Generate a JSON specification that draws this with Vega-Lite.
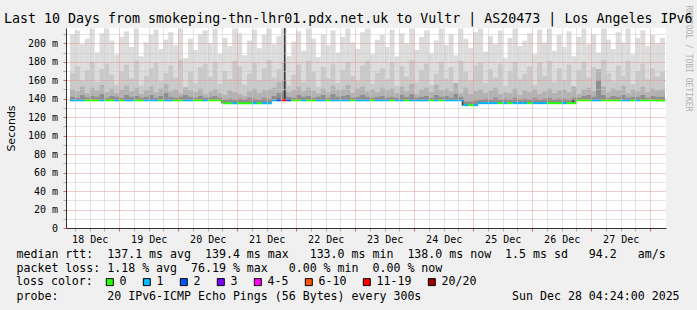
{
  "$schema": "https://vega.github.io/schema/vega-lite/v6.json",
  "width": 600,
  "height": 200,
  "autosize": {"type": "none"},
  "padding": {"left": 66, "top": 28, "right": 31, "bottom": 82},
  "background": "#f0f0f0",
  "config": {
    "view": {"fill": "white", "stroke": null},
    "font": "DejaVu Sans Mono",
    "axis": {"labelFont": "DejaVu Sans Mono", "labelFontSize": 10, "labelColor": "#000", "domainColor": "#333", "titleFontWeight": "normal", "titleColor": "#000"}
  },
  "title": {
    "text": "Last 10 Days from smokeping-thn-lhr01.pdx.net.uk to Vultr | AS20473 | Los Angeles IPv6",
    "anchor": "start", "frame": "group", "dx": -62, "dy": 36.6, "offset": 5,
    "font": "DejaVu Sans Mono", "fontSize": 13.3, "fontWeight": "normal", "color": "#000", "baseline": "alphabetic"
  },
  "datasets": {
    "smoke": [
      {"t":"2025-12-18T05:00Z","m":138.3,"l":"1","a":210,"b":168,"c":150,"d":142},
      {"t":"2025-12-18T07:00Z","m":138.3,"l":"1","a":214,"b":175,"c":148,"d":141},
      {"t":"2025-12-18T09:00Z","m":138.3,"l":"1","a":199,"b":160,"c":153,"d":144},
      {"t":"2025-12-18T11:00Z","m":138.3,"l":"0","a":205,"b":171,"c":146,"d":141.5},
      {"t":"2025-12-18T13:00Z","m":138.3,"l":"0","a":216,"b":180,"c":152,"d":143},
      {"t":"2025-12-18T15:00Z","m":138.3,"l":"0","a":190,"b":158,"c":149,"d":142},
      {"t":"2025-12-18T17:00Z","m":138.3,"l":"1","a":211,"b":172,"c":155,"d":145},
      {"t":"2025-12-18T19:00Z","m":138.3,"l":"0","a":216,"b":178,"c":147,"d":141},
      {"t":"2025-12-18T21:00Z","m":138.3,"l":"0","a":203,"b":166,"c":151,"d":143},
      {"t":"2025-12-18T23:00Z","m":138.3,"l":"1","a":188,"b":155,"c":146,"d":142},
      {"t":"2025-12-19T01:00Z","m":138.3,"l":"0","a":207,"b":170,"c":150,"d":141},
      {"t":"2025-12-19T03:00Z","m":138.3,"l":"1","a":213,"b":177,"c":154,"d":144},
      {"t":"2025-12-19T05:00Z","m":138.3,"l":"1","a":196,"b":162,"c":148,"d":142},
      {"t":"2025-12-19T07:00Z","m":138.3,"l":"0","a":216,"b":181,"c":152,"d":143},
      {"t":"2025-12-19T09:00Z","m":138.3,"l":"0","a":186,"b":154,"c":145,"d":141},
      {"t":"2025-12-19T11:00Z","m":138.3,"l":"1","a":201,"b":165,"c":149,"d":142},
      {"t":"2025-12-19T13:00Z","m":138.3,"l":"1","a":209,"b":173,"c":153,"d":144},
      {"t":"2025-12-19T15:00Z","m":138.3,"l":"1","a":215,"b":179,"c":147,"d":141},
      {"t":"2025-12-19T17:00Z","m":138.3,"l":"0","a":194,"b":159,"c":151,"d":143},
      {"t":"2025-12-19T19:00Z","m":138.3,"l":"1","a":204,"b":168,"c":156,"d":146},
      {"t":"2025-12-19T21:00Z","m":138.3,"l":"1","a":212,"b":176,"c":148,"d":142},
      {"t":"2025-12-19T23:00Z","m":138.3,"l":"0","a":198,"b":163,"c":150,"d":141},
      {"t":"2025-12-20T01:00Z","m":138.3,"l":"0","a":216,"b":182,"c":146,"d":142},
      {"t":"2025-12-20T03:00Z","m":138.3,"l":"1","a":184,"b":153,"c":152,"d":144},
      {"t":"2025-12-20T05:00Z","m":138.3,"l":"1","a":205,"b":169,"c":149,"d":142},
      {"t":"2025-12-20T07:00Z","m":138.3,"l":"0","a":193,"b":157,"c":147,"d":141},
      {"t":"2025-12-20T09:00Z","m":138.3,"l":"0","a":210,"b":174,"c":151,"d":143},
      {"t":"2025-12-20T11:00Z","m":138.3,"l":"1","a":214,"b":178,"c":145,"d":141},
      {"t":"2025-12-20T13:00Z","m":138.3,"l":"0","a":200,"b":164,"c":148,"d":142},
      {"t":"2025-12-20T15:00Z","m":138.3,"l":"0","a":216,"b":180,"c":150,"d":143},
      {"t":"2025-12-20T17:00Z","m":138.3,"l":"0","a":189,"b":156,"c":146,"d":141},
      {"t":"2025-12-20T19:00Z","m":135.1,"l":"0","a":206,"b":170,"c":144,"d":139},
      {"t":"2025-12-20T21:00Z","m":135.1,"l":"0","a":197,"b":161,"c":149,"d":140},
      {"t":"2025-12-20T23:00Z","m":135.1,"l":"1","a":216,"b":181,"c":147,"d":139},
      {"t":"2025-12-21T01:00Z","m":135.1,"l":"0","a":211,"b":175,"c":145,"d":140},
      {"t":"2025-12-21T03:00Z","m":135.1,"l":"0","a":187,"b":155,"c":143,"d":139},
      {"t":"2025-12-21T05:00Z","m":135.1,"l":"0","a":203,"b":167,"c":148,"d":141},
      {"t":"2025-12-21T07:00Z","m":135.1,"l":"1","a":215,"b":179,"c":151,"d":140},
      {"t":"2025-12-21T09:00Z","m":135.1,"l":"0","a":195,"b":160,"c":146,"d":139},
      {"t":"2025-12-21T11:00Z","m":135.1,"l":"1","a":209,"b":173,"c":149,"d":141},
      {"t":"2025-12-21T13:00Z","m":135.1,"l":"1","a":216,"b":182,"c":150,"d":140},
      {"t":"2025-12-21T15:00Z","m":138.3,"l":"1","a":199,"b":163,"c":152,"d":143},
      {"t":"2025-12-21T17:00Z","m":138.3,"l":"2","a":208,"b":172,"c":158,"d":146},
      {"t":"2025-12-21T19:00Z","m":138.3,"l":"11-19","a":216,"b":180,"c":160,"d":148},
      {"t":"2025-12-21T21:00Z","m":138.3,"l":"2","a":186,"b":154,"c":147,"d":142},
      {"t":"2025-12-21T23:00Z","m":138.3,"l":"0","a":202,"b":166,"c":150,"d":141},
      {"t":"2025-12-22T01:00Z","m":138.3,"l":"0","a":213,"b":177,"c":153,"d":144},
      {"t":"2025-12-22T03:00Z","m":138.3,"l":"1","a":192,"b":158,"c":148,"d":142},
      {"t":"2025-12-22T05:00Z","m":138.3,"l":"0","a":216,"b":181,"c":152,"d":143},
      {"t":"2025-12-22T07:00Z","m":138.3,"l":"0","a":205,"b":169,"c":149,"d":141},
      {"t":"2025-12-22T09:00Z","m":138.3,"l":"1","a":185,"b":153,"c":146,"d":142},
      {"t":"2025-12-22T11:00Z","m":138.3,"l":"1","a":210,"b":174,"c":151,"d":144},
      {"t":"2025-12-22T13:00Z","m":138.3,"l":"0","a":198,"b":162,"c":147,"d":141},
      {"t":"2025-12-22T15:00Z","m":138.3,"l":"1","a":214,"b":178,"c":154,"d":145},
      {"t":"2025-12-22T17:00Z","m":138.3,"l":"1","a":190,"b":157,"c":149,"d":142},
      {"t":"2025-12-22T19:00Z","m":138.3,"l":"1","a":207,"b":171,"c":150,"d":143},
      {"t":"2025-12-22T21:00Z","m":138.3,"l":"1","a":216,"b":180,"c":155,"d":144},
      {"t":"2025-12-22T23:00Z","m":138.3,"l":"0","a":201,"b":165,"c":146,"d":141},
      {"t":"2025-12-23T01:00Z","m":138.3,"l":"1","a":194,"b":159,"c":151,"d":142},
      {"t":"2025-12-23T03:00Z","m":138.3,"l":"1","a":212,"b":176,"c":153,"d":144},
      {"t":"2025-12-23T05:00Z","m":138.3,"l":"1","a":216,"b":181,"c":148,"d":142},
      {"t":"2025-12-23T07:00Z","m":138.3,"l":"0","a":188,"b":156,"c":150,"d":141},
      {"t":"2025-12-23T09:00Z","m":138.3,"l":"1","a":204,"b":168,"c":147,"d":142},
      {"t":"2025-12-23T11:00Z","m":138.3,"l":"1","a":209,"b":173,"c":152,"d":143},
      {"t":"2025-12-23T13:00Z","m":138.3,"l":"1","a":196,"b":161,"c":149,"d":141},
      {"t":"2025-12-23T15:00Z","m":138.3,"l":"0","a":215,"b":179,"c":151,"d":142},
      {"t":"2025-12-23T17:00Z","m":138.3,"l":"1","a":186,"b":154,"c":146,"d":141},
      {"t":"2025-12-23T19:00Z","m":138.3,"l":"1","a":211,"b":175,"c":153,"d":144},
      {"t":"2025-12-23T21:00Z","m":138.3,"l":"0","a":200,"b":164,"c":148,"d":142},
      {"t":"2025-12-23T23:00Z","m":138.3,"l":"1","a":216,"b":182,"c":156,"d":145},
      {"t":"2025-12-24T01:00Z","m":138.3,"l":"1","a":193,"b":158,"c":145,"d":141},
      {"t":"2025-12-24T03:00Z","m":138.3,"l":"1","a":207,"b":171,"c":150,"d":142},
      {"t":"2025-12-24T05:00Z","m":138.3,"l":"1","a":214,"b":178,"c":152,"d":143},
      {"t":"2025-12-24T07:00Z","m":138.3,"l":"0","a":189,"b":155,"c":147,"d":141},
      {"t":"2025-12-24T09:00Z","m":138.3,"l":"1","a":203,"b":167,"c":155,"d":144},
      {"t":"2025-12-24T11:00Z","m":138.3,"l":"0","a":216,"b":180,"c":149,"d":142},
      {"t":"2025-12-24T13:00Z","m":138.3,"l":"1","a":198,"b":162,"c":151,"d":143},
      {"t":"2025-12-24T15:00Z","m":138.3,"l":"1","a":210,"b":174,"c":148,"d":141},
      {"t":"2025-12-24T17:00Z","m":138.3,"l":"1","a":187,"b":156,"c":157,"d":145},
      {"t":"2025-12-24T19:00Z","m":138.3,"l":"1","a":216,"b":181,"c":146,"d":142},
      {"t":"2025-12-24T21:00Z","m":133.0,"l":"1","a":205,"b":169,"c":152,"d":137},
      {"t":"2025-12-24T23:00Z","m":133.0,"l":"0","a":195,"b":160,"c":145,"d":137},
      {"t":"2025-12-25T01:00Z","m":133.0,"l":"1","a":212,"b":176,"c":148,"d":138},
      {"t":"2025-12-25T03:00Z","m":135.2,"l":"1","a":216,"b":179,"c":150,"d":139},
      {"t":"2025-12-25T05:00Z","m":135.2,"l":"1","a":191,"b":157,"c":146,"d":140},
      {"t":"2025-12-25T07:00Z","m":135.2,"l":"1","a":208,"b":172,"c":149,"d":139},
      {"t":"2025-12-25T09:00Z","m":135.2,"l":"1","a":199,"b":163,"c":152,"d":141},
      {"t":"2025-12-25T11:00Z","m":135.2,"l":"0","a":214,"b":178,"c":145,"d":139},
      {"t":"2025-12-25T13:00Z","m":135.2,"l":"1","a":184,"b":154,"c":147,"d":140},
      {"t":"2025-12-25T15:00Z","m":135.2,"l":"0","a":206,"b":170,"c":146,"d":139},
      {"t":"2025-12-25T17:00Z","m":135.2,"l":"1","a":216,"b":180,"c":151,"d":141},
      {"t":"2025-12-25T19:00Z","m":135.2,"l":"1","a":197,"b":161,"c":144,"d":139},
      {"t":"2025-12-25T21:00Z","m":135.2,"l":"1","a":203,"b":167,"c":149,"d":140},
      {"t":"2025-12-25T23:00Z","m":135.2,"l":"0","a":211,"b":175,"c":147,"d":139},
      {"t":"2025-12-26T01:00Z","m":135.2,"l":"1","a":188,"b":155,"c":150,"d":141},
      {"t":"2025-12-26T03:00Z","m":135.2,"l":"1","a":215,"b":179,"c":145,"d":139},
      {"t":"2025-12-26T05:00Z","m":135.2,"l":"1","a":201,"b":165,"c":148,"d":140},
      {"t":"2025-12-26T07:00Z","m":135.2,"l":"0","a":216,"b":181,"c":151,"d":141},
      {"t":"2025-12-26T09:00Z","m":135.2,"l":"0","a":192,"b":158,"c":146,"d":139},
      {"t":"2025-12-26T11:00Z","m":135.2,"l":"0","a":209,"b":173,"c":149,"d":140},
      {"t":"2025-12-26T13:00Z","m":135.2,"l":"1","a":196,"b":160,"c":150,"d":140},
      {"t":"2025-12-26T15:00Z","m":135.2,"l":"0","a":213,"b":177,"c":147,"d":139},
      {"t":"2025-12-26T17:00Z","m":135.2,"l":"0","a":186,"b":154,"c":153,"d":141},
      {"t":"2025-12-26T19:00Z","m":138.3,"l":"0","a":207,"b":171,"c":145,"d":141},
      {"t":"2025-12-26T21:00Z","m":138.3,"l":"0","a":216,"b":180,"c":150,"d":143},
      {"t":"2025-12-26T23:00Z","m":138.3,"l":"0","a":199,"b":163,"c":152,"d":144},
      {"t":"2025-12-27T01:00Z","m":138.3,"l":"1","a":210,"b":174,"c":148,"d":142},
      {"t":"2025-12-27T03:00Z","m":138.3,"l":"1","a":190,"b":157,"c":172,"d":160},
      {"t":"2025-12-27T05:00Z","m":138.3,"l":"0","a":216,"b":182,"c":153,"d":144},
      {"t":"2025-12-27T07:00Z","m":138.3,"l":"0","a":204,"b":168,"c":147,"d":141},
      {"t":"2025-12-27T09:00Z","m":138.3,"l":"0","a":194,"b":159,"c":151,"d":143},
      {"t":"2025-12-27T11:00Z","m":138.3,"l":"0","a":212,"b":176,"c":149,"d":142},
      {"t":"2025-12-27T13:00Z","m":138.3,"l":"1","a":201,"b":165,"c":154,"d":144},
      {"t":"2025-12-27T15:00Z","m":138.3,"l":"1","a":216,"b":181,"c":146,"d":141},
      {"t":"2025-12-27T17:00Z","m":138.3,"l":"0","a":188,"b":156,"c":150,"d":142},
      {"t":"2025-12-27T19:00Z","m":138.3,"l":"1","a":206,"b":170,"c":148,"d":142},
      {"t":"2025-12-27T21:00Z","m":138.3,"l":"0","a":214,"b":178,"c":153,"d":144},
      {"t":"2025-12-27T23:00Z","m":138.3,"l":"0","a":197,"b":161,"c":147,"d":141},
      {"t":"2025-12-28T01:00Z","m":138.3,"l":"0","a":209,"b":173,"c":151,"d":143},
      {"t":"2025-12-28T03:00Z","m":138.3,"l":"0","a":200,"b":164,"c":149,"d":142},
      {"t":"2025-12-28T05:00Z","m":138.0,"l":"0","a":206,"b":169,"c":150,"d":142}
    ],
    "spikes": [
      {"t":"2025-12-20T17:50Z","lo":135.1,"hi":138.5},
      {"t":"2025-12-21T16:50Z","lo":137.5,"hi":140.5},
      {"t":"2025-12-21T19:20Z","lo":138.3,"hi":216.6},
      {"t":"2025-12-24T19:40Z","lo":132.5,"hi":139},
      {"t":"2025-12-26T16:40Z","lo":135.2,"hi":138.5}
    ]
  },
  "encoding": {
    "x": {
      "field": "t", "type": "temporal",
      "scale": {"type": "utc", "domain": [1766031840000, 1766895840000]},
      "axis": {
        "values": [1766037600000,1766059200000,1766080800000,1766102400000,1766124000000,1766145600000,1766167200000,1766188800000,1766210400000,1766232000000,1766253600000,1766275200000,1766296800000,1766318400000,1766340000000,1766361600000,1766383200000,1766404800000,1766426400000,1766448000000,1766469600000,1766491200000,1766512800000,1766534400000,1766556000000,1766577600000,1766599200000,1766620800000,1766642400000,1766664000000,1766685600000,1766707200000,1766728800000,1766750400000,1766772000000,1766793600000,1766815200000,1766836800000,1766858400000,1766880000000],
        "labelExpr": "utchours(datum.value) == 12 ? utcFormat(datum.value, '%d %b') : ''",
        "labelFlush": false, "labelOverlap": false, "labelPadding": 3,
        "tickSize": 3,
        "tickColor": {"condition": {"test": "utchours(datum.value) == 0", "value": "#e06060"}, "value": "#aaaaaa"},
        "grid": true, "gridDash": [1, 1],
        "gridColor": {"condition": {"test": "utchours(datum.value) == 0", "value": "#e49a9a"}, "value": "#c8c8c8"},
        "zindex": 1,
        "title": [
          "median rtt:\u00a0\u00a0137.1 ms avg\u00a0\u00a0139.4 ms max\u00a0\u00a0\u00a0133.0 ms min\u00a0\u00a0138.0 ms now\u00a0\u00a01.5 ms sd\u00a0\u00a0\u00a094.2\u00a0\u00a0\u00a0am/s",
          "packet loss: 1.18 % avg\u00a0\u00a076.19 % max\u00a0\u00a0\u00a00.00 % min\u00a0\u00a00.00 % now",
          "\u200b",
          "probe:\u00a0\u00a0\u00a0\u00a0\u00a0\u00a0\u00a020 IPv6-ICMP Echo Pings (56 Bytes) every 300s\u00a0\u00a0\u00a0\u00a0\u00a0\u00a0\u00a0\u00a0\u00a0\u00a0\u00a0\u00a0\u00a0Sun Dec 28 04:24:00 2025"
        ],
        "titleFont": "DejaVu Sans Mono", "titleFontSize": 11.6,
        "titleAnchor": "start", "titleAlign": "left", "titleBaseline": "alphabetic",
        "titleX": -50, "titleY": 29.7, "titleLineHeight": 14.1
      }
    }
  },
  "layer": [
    {
      "data": {"name": "smoke"},
      "mark": {"type": "bar", "width": 5, "color": "#dcdcdc", "clip": true},
      "encoding": {
        "y": {
          "field": "m", "type": "quantitative",
          "scale": {"domain": [0, 216.6], "nice": false, "zero": false},
          "axis": {
            "orient": "left",
            "values": [0,10,20,30,40,50,60,70,80,90,100,110,120,130,140,150,160,170,180,190,200,210],
            "labelExpr": "datum.value == 0 ? '0\u00a0\u00a0' : (datum.value % 20 == 0 ? datum.value + ' m' : '')",
            "tickSize": 3, "labelPadding": 5.5,
            "tickColor": {"condition": {"test": "datum.value % 20 == 0", "value": "#e06060"}, "value": "#aaaaaa"},
            "grid": true, "gridDash": [1, 1],
            "gridColor": {"condition": {"test": "datum.value % 20 == 0", "value": "#e49a9a"}, "value": "#c8c8c8"},
            "zindex": 1,
            "title": "Seconds", "titleFont": "DejaVu Sans", "titleFontSize": 11,
            "titleX": -52, "titleBaseline": "alphabetic"
          }
        },
        "y2": {"field": "a"}
      }
    },
    {
      "data": {"name": "smoke"},
      "mark": {"type": "bar", "width": 5, "color": "#c9c9c9", "clip": true},
      "encoding": {
        "y": {"field": "m", "type": "quantitative", "axis": null},
        "y2": {"field": "b"}
      }
    },
    {
      "data": {"name": "smoke"},
      "mark": {"type": "bar", "width": 5, "color": "#b2b2b2", "clip": true},
      "encoding": {
        "y": {"field": "m", "type": "quantitative", "axis": null},
        "y2": {"field": "c"}
      }
    },
    {
      "data": {"name": "smoke"},
      "mark": {"type": "bar", "width": 5, "color": "#8e8e8e", "clip": true},
      "encoding": {
        "y": {"field": "m", "type": "quantitative", "axis": null},
        "y2": {"field": "d"}
      }
    },
    {
      "data": {"name": "spikes"},
      "mark": {"type": "rule", "color": "#3a3a3a", "strokeWidth": 1.6, "clip": true},
      "encoding": {
        "y": {
          "field": "lo", "type": "quantitative",
          "axis": {
            "orient": "right", "labels": false, "ticks": false, "domain": false, "grid": false,
            "title": "RRDTOOL / TOBI OETIKER", "titleAngle": 90, "titleX": 19, "titleY": -23,
            "titleAlign": "left", "titleBaseline": "alphabetic",
            "titleFont": "DejaVu Sans Mono", "titleFontSize": 8, "titleColor": "#b0b0b0"
          }
        },
        "y2": {"field": "hi"}
      }
    },
    {
      "data": {"name": "smoke"},
      "mark": {"type": "tick", "orient": "horizontal", "size": 5, "thickness": 2, "opacity": 1, "clip": true},
      "encoding": {
        "y": {"field": "m", "type": "quantitative", "axis": null},
        "color": {
          "field": "l", "type": "nominal",
          "scale": {
            "domain": ["0","1","2","3","4-5","6-10","11-19","20/20"],
            "range": ["#26ff00","#00b8ff","#0059ff","#7e00ff","#ff00ff","#ff5500","#ff0000","#a10000"]
          },
          "legend": {
            "orient": "none", "legendX": -50, "legendY": 248, "direction": "horizontal", "columns": 8,
            "title": "loss color:", "titleOrient": "left", "titleAngle": 0, "titlePadding": 11,
            "titleFont": "DejaVu Sans Mono", "titleFontSize": 11.6, "titleFontWeight": "normal", "titleColor": "#000",
            "labelFont": "DejaVu Sans Mono", "labelFontSize": 11.6, "labelColor": "#000",
            "symbolType": "square", "symbolSize": 49, "symbolStrokeColor": "#000", "symbolStrokeWidth": 1, "symbolOpacity": 1,
            "labelOffset": 4, "columnPadding": 14, "padding": 0
          }
        }
      }
    }
  ],
  "resolve": {"axis": {"y": "independent"}}
}
